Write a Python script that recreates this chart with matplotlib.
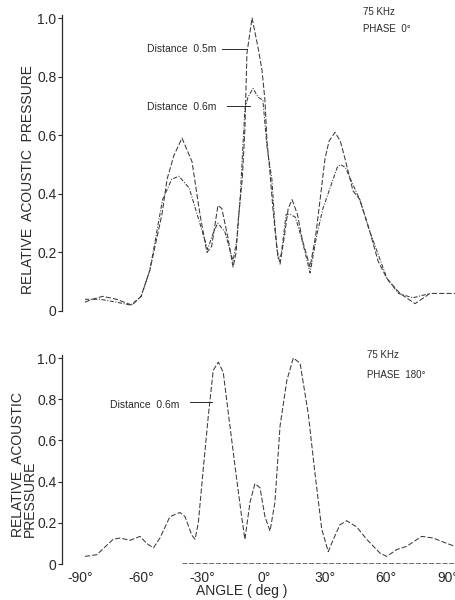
import numpy as np
import matplotlib
matplotlib.use("Agg")
import matplotlib.pyplot as plt

plt.rcParams['font.family'] = ['Liberation Sans', 'DejaVu Sans']

# --- top panel, 75 kHz, phase 0 deg (angle in deg, relative pressure) ---
ang_05 = [-87.5, -84, -78.7, -72, -64.5, -60, -55.7, -49.8, -47.3, -44, -40.0, -35.1, -31.2,
          -27.8, -25.5, -22.4, -20.5, -17.5, -15.0, -13.5, -12.6, -10.5, -9.2, -8.2, -5.7,
          -2.8, -0.8, 0.6, 1.6, 3.1, 4.5, 6.5, 8.0, 10, 12, 13.9, 16.5, 19, 22.7, 25.5,
          27.6, 30, 32, 34.9, 37.5, 39.8, 43.7, 47.1, 52.0, 56, 60.4, 66.7, 74.1, 81.4,
          89.7, 93.6]
p_05 = [0.03, 0.04, 0.05, 0.04, 0.02, 0.05, 0.14, 0.33, 0.45, 0.53, 0.59, 0.51, 0.33,
        0.20, 0.22, 0.36, 0.35, 0.25, 0.15, 0.20, 0.30, 0.45, 0.62, 0.88, 1.0,
        0.90, 0.82, 0.72, 0.58, 0.47, 0.35, 0.21, 0.16, 0.25, 0.35, 0.38, 0.33, 0.24, 0.15, 0.26,
        0.38, 0.52, 0.58, 0.61, 0.58, 0.52, 0.41, 0.38, 0.27, 0.17, 0.11, 0.06, 0.025, 0.06,
        0.06, 0.06]

ang_06 = [-87.5, -80, -72, -65, -60, -55.7, -49.5, -45, -41.5, -36.5, -33, -30, -27.5,
          -24.5, -22.5, -19, -15, -13, -11.5, -9.2, -7.7, -5.2, -2.8, -0.4, 1.6, 4.0,
          5.5, 7.0, 8.5, 11, 13, 15.5, 18.5, 22.7, 26, 29, 32.5, 36, 37.5, 40, 42.5,
          47, 52, 60.4, 66, 73, 81.4]
p_06 = [0.04, 0.04, 0.03, 0.02, 0.05, 0.14, 0.38, 0.45, 0.46, 0.42, 0.34, 0.27, 0.21,
        0.27, 0.30, 0.27, 0.17, 0.25, 0.39, 0.69, 0.73, 0.76, 0.73, 0.72, 0.56, 0.45,
        0.29, 0.18, 0.19, 0.33, 0.33, 0.32, 0.25, 0.13, 0.26, 0.35, 0.42, 0.49, 0.50, 0.49, 0.45,
        0.38, 0.27, 0.11, 0.06, 0.045, 0.06]

# --- bottom panel, 75 kHz, phase 180 deg, distance 0.6 m ---
ang_180 = [-87.5, -81.7, -73.7, -70.3, -65.4, -60.5, -57.3, -54.0, -50.8, -45.9, -41.0,
           -38.5, -35.2, -33.6, -32.0, -29.6, -27.1, -24.7, -22.2, -19.8, -17.3, -13.2,
           -10.8, -9.2, -6.7, -4.3, -1.8, 0.6, 3.1, 5.5, 8.0, 11.3, 14.5, 17.8, 21.8,
           25.1, 28.4, 31.6, 34.1, 37.3, 40.6, 45.5, 50.4, 56.9, 60.2, 65.1, 70.0, 77.3,
           83.0, 89.6, 93.6]
p_180 = [0.037, 0.045, 0.12, 0.126, 0.115, 0.134, 0.10, 0.078, 0.126, 0.23, 0.25,
         0.23, 0.14, 0.12, 0.20, 0.46, 0.72, 0.94, 0.98, 0.93, 0.73, 0.41,
         0.23, 0.12, 0.30, 0.39, 0.37, 0.23, 0.16, 0.30, 0.67, 0.89, 1.0, 0.975, 0.73,
         0.44, 0.17, 0.06, 0.12, 0.19, 0.21, 0.18, 0.12, 0.053, 0.037, 0.07, 0.086, 0.134,
         0.126, 0.10, 0.086]

yticks = [0, 0.2, 0.4, 0.6, 0.8, 1.0]
ylabels = ['0', '0.2', '0.4', '0.6', '0.8', '1.0']
xticks = [-90, -60, -30, 0, 30, 60, 90]
xlabels = ['-90°', '-60°', '-30°', '0°', '30°', '60°', '90°']

W, H = 455, 600
fig = plt.figure(figsize=(W / 100, H / 100), dpi=100)

xlim = ((62 - 263.7) / 2.043, (455 - 263.7) / 2.043)
ink = '#2a2a2a'
curve = '#3a3a3a'

def style_axes(ax):
    for s in ['top', 'right', 'bottom']:
        ax.spines[s].set_visible(False)
    ax.spines['left'].set_linewidth(0.9)
    ax.spines['left'].set_color(ink)
    ax.set_xlim(*xlim)
    ax.set_yticks(yticks)
    ax.set_yticklabels(ylabels, fontsize=10, color=ink)
    ax.tick_params(axis='y', length=3, width=0.8, pad=1, colors=ink)

# top axes: y=0 at 311px, top at 15px
ax1 = fig.add_axes([62 / W, (H - 311) / H, (W - 62) / W, 296 / H])
style_axes(ax1)
ax1.set_ylim(0, 296 / 293)
ax1.set_xticks([])
ax1.plot(ang_05, p_05, color=curve, lw=0.75, ls=(0, (5, 2)))
ax1.plot(ang_06, p_06, color=curve, lw=0.75, ls=(0, (4, 1.5, 1, 1.5)))

ax1.text(-57.1, 0.894, 'Distance  0.5m', fontsize=7.5, va='center', color=ink)
ax1.plot([-20.4, -8.2], [0.894, 0.894], color=ink, lw=0.7)
ax1.text(-57.1, 0.696, 'Distance  0.6m', fontsize=7.5, va='center', color=ink)
ax1.plot([-18.0, -6.7], [0.70, 0.70], color=ink, lw=0.7)

fig.text(363 / W, 1 - 12 / H, '75 KHz', fontsize=7, va='center', color=ink)
fig.text(363 / W, 1 - 29 / H, 'PHASE  0°', fontsize=7, va='center', color=ink)
fig.text(28 / W, 1 - 180 / H, 'RELATIVE  ACOUSTIC  PRESSURE', rotation=90,
         fontsize=10, ha='center', va='center', color=ink)

# bottom axes: y=0 at 564px, top at 355px
ax2 = fig.add_axes([62 / W, (H - 564) / H, (W - 62) / W, 209 / H])
style_axes(ax2)
ax2.set_ylim(0, 209 / 206)
ax2.set_xticks(xticks)
ax2.set_xticklabels(xlabels, fontsize=10, color=ink)
ax2.tick_params(axis='x', length=0, pad=5)
ax2.plot([-40, 93.6], [0.005, 0.005], color='#555555', lw=0.6, ls=(0, (6, 2)))
ax2.plot(ang_180, p_180, color=curve, lw=0.75, ls=(0, (5, 2)))

ax2.text(-75.2, 0.77, 'Distance  0.6m', fontsize=7.5, va='center', color=ink)
ax2.plot([-36.0, -25.3], [0.786, 0.786], color=ink, lw=0.7)

fig.text(367 / W, 1 - 355 / H, '75 KHz', fontsize=7, va='center', color=ink)
fig.text(367 / W, 1 - 375 / H, 'PHASE  180°', fontsize=7, va='center', color=ink)
fig.text(24 / W, 1 - 537 / H, 'RELATIVE  ACOUSTIC\nPRESSURE', rotation=90,
         fontsize=10, ha='center', va='bottom', multialignment='left',
         linespacing=0.85, color=ink)
fig.text(242 / W, 1 - 591 / H, 'ANGLE ( deg )', fontsize=10, ha='center',
         va='center', color=ink)

fig.savefig('out.png', dpi=100)
